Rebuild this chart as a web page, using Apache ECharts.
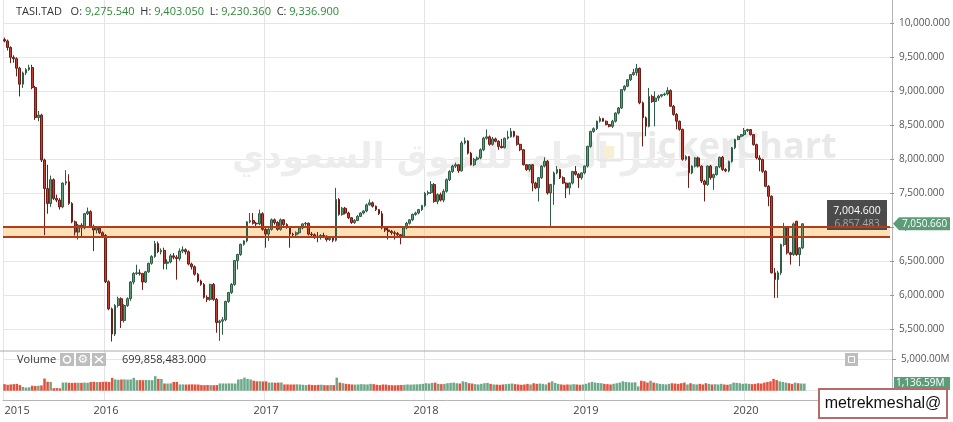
<!DOCTYPE html>
<html><head><meta charset="utf-8">
<script src="https://cdn.jsdelivr.net/npm/echarts@6/dist/echarts.min.js"></script>
<style>html,body{margin:0;padding:0;background:#fff;}#c{width:953px;height:422px;}</style>
</head><body><div id="c"></div>
<script>
// ---- data (weekly candles, TASI) ----
const firstWeek = '2015-05-21';
const totalWeeks = 289; // axis extends beyond last candle
const open = [
9760,9740,9645,9500,9480,9340,9105,9270,9320,9350,
9055,8615,8650,7990,7570,7350,7700,7425,7400,7300,
7650,7670,7350,7080,6930,7030,6990,7200,7230,7010,
6960,6990,6920,6880,6200,5800,5430,5850,5950,5630,
5850,5950,6195,6320,6330,6320,6195,6345,6470,6570,
6760,6640,6660,6470,6490,6580,6560,6540,6650,6670,
6640,6460,6420,6310,6210,6160,5970,5940,6160,5940,
5600,5620,5640,5910,6040,6160,6510,6600,6750,6800,
7080,7100,7060,7050,7200,6970,6900,6970,7110,7070,
6970,7110,7040,7000,6900,6890,6920,6990,7050,7060,
6900,6890,6870,6850,6880,6870,6820,6840,6810,7410,
7190,7280,7210,7140,7070,7100,7160,7210,7240,7330,
7360,7310,7260,7200,6990,6960,6940,6920,6910,6890,
6870,6990,7060,7110,7190,7210,7260,7320,7500,7510,
7630,7380,7480,7400,7530,7700,7820,7900,7920,7830,
8240,8270,8090,7920,8000,8020,8140,8310,8330,8220,
8300,8265,8190,8170,8310,8330,8410,8340,8220,8140,
7920,7850,7920,7650,7580,7730,7900,7970,7505,7630,
7800,7850,7730,7650,7580,7650,7820,7780,7730,7800,
7900,8190,8410,8450,8560,8600,8560,8510,8485,8560,
8680,8755,9025,9075,9170,9245,9275.54,9336.9,8830,8610,
8485,8925,8850,8900,8930,8950,8960,9010,8780,8660,
8560,8440,8000,8040,7800,7900,8020,7900,7680,7630,
7900,7730,7775,7890,8030,7850,7830,7970,8170,8290,
8338,8363,8422,8437,8363,8216,8020,7996,7824,7603,
7456,6330,6232,6330,6746,6991,6624,6599,7089,6600,
6697];
const high = [
9790,9760,9660,9530,9500,9360,9290,9340,9390,9390,
9080,8710,8670,8010,7920,7760,7720,7480,7430,7660,
7840,7780,7370,7100,7050,7060,7210,7290,7250,7040,
7010,7000,6940,6900,6220,5820,5870,5980,5970,5870,
5970,6210,6340,6450,6380,6330,6360,6480,6590,6800,
6790,6690,6700,6530,6610,6620,6590,6690,6720,6690,
6660,6480,6440,6330,6230,6180,6000,6170,6180,5960,
5640,5680,5920,6050,6180,6520,6610,6760,6810,7090,
7210,7210,7080,7260,7220,6990,6990,7130,7130,7090,
7130,7120,7060,7010,6920,6940,7000,7060,7080,7070,
6930,6910,6930,6900,6920,6880,6850,6860,7580,7430,
7300,7300,7230,7150,7120,7180,7220,7250,7350,7410,
7380,7320,7270,7240,7010,6990,6960,6950,6930,6900,
7000,7080,7120,7200,7230,7270,7330,7520,7540,7680,
7650,7500,7510,7560,7720,7840,7920,7950,7930,8270,
8320,8280,8110,8020,8040,8160,8330,8440,8350,8330,
8320,8280,8300,8320,8420,8460,8420,8350,8230,8150,
7930,7930,7930,7670,7740,7910,8030,7990,7640,7820,
7900,7860,7750,7660,7660,7830,7900,7800,7810,7910,
8200,8420,8470,8570,8630,8610,8570,8520,8580,8690,
8770,9030,9090,9180,9250,9330,9403.05,9350,8850,8630,
9050,8950,9000,8950,8960,8980,9060,9030,8800,8680,
8570,8450,8060,8050,7910,8030,8040,7910,7700,7910,
7920,7790,7900,8040,8050,7870,7980,8180,8300,8350,
8370,8461,8450,8440,8370,8230,8060,8010,7840,7620,
7470,6400,6360,6760,7065,7000,6640,7070,7095,6710,
7060];
const low = [
9720,9600,9415,9420,9220,8925,9050,9240,9300,9030,
8580,8560,7960,6885,7200,7300,7400,7370,7260,7280,
7620,7330,7060,6880,6820,6860,6970,7180,6990,6650,
6910,6900,6860,6180,5780,5320,5400,5820,5520,5600,
5830,5920,6160,6300,6290,6080,6180,6330,6450,6550,
6620,6600,6380,6380,6470,6530,6230,6510,6620,6600,
6440,6380,6290,6190,6140,5950,5900,5920,5920,5450,
5330,5420,5620,5890,6020,6140,6380,6580,6730,6780,
7060,7040,7020,7030,6950,6700,6800,6950,7040,6950,
6950,7020,6980,6700,6860,6870,6900,6970,7020,6880,
6860,6830,6780,6820,6840,6790,6800,6780,6790,7170,
7170,7190,7120,7050,7050,7090,7150,7190,7220,7320,
7290,7240,7180,6970,6930,6820,6890,6820,6860,6750,
6850,6970,7040,7090,7170,7190,7240,7300,7470,7490,
7360,7340,7380,7370,7510,7680,7800,7870,7800,7820,
8220,8070,7910,7900,7980,8000,8120,8290,8200,8200,
8250,8140,8160,8160,8290,8320,8320,8200,8120,7910,
7830,7820,7530,7560,7380,7710,7880,7480,6990,7330,
7780,7710,7640,7430,7480,7630,7760,7580,7700,7780,
7880,8170,8390,8430,8540,8550,8500,8470,8460,8540,
8660,8740,9000,9060,9150,9230,9230.36,8810,8190,8340,
8470,8830,8485,8860,8910,8930,8940,8770,8640,8440,
8420,7980,7980,7580,7780,7880,7880,7650,7380,7610,
7700,7550,7760,7870,7830,7810,7810,7950,8150,8280,
8320,8340,8400,8350,8200,8000,7824,7800,7590,7310,
6320,5962,5962,6300,6720,6600,6452,6580,6580,6428,
6680];
const close = [
9740,9645,9500,9480,9340,9105,9270,9320,9350,9055,
8615,8650,7990,7570,7350,7700,7425,7400,7300,7650,
7670,7350,7080,6930,7030,6990,7200,7230,7010,6960,
6990,6920,6880,6200,5800,5430,5850,5950,5630,5850,
5950,6195,6320,6330,6320,6195,6345,6470,6570,6760,
6640,6660,6470,6490,6580,6560,6540,6650,6670,6640,
6460,6420,6310,6210,6160,5970,5940,6160,5940,5600,
5620,5640,5910,6040,6160,6510,6600,6750,6800,7080,
7100,7060,7050,7200,6970,6900,6970,7110,7070,6970,
7110,7040,7000,6900,6890,6920,6990,7050,7060,6900,
6890,6870,6850,6880,6870,6820,6840,6810,7410,7190,
7280,7210,7140,7070,7100,7160,7210,7240,7330,7360,
7310,7260,7200,6990,6960,6940,6920,6910,6890,6870,
6990,7060,7110,7190,7210,7260,7320,7500,7510,7630,
7380,7480,7400,7530,7700,7820,7900,7920,7830,8240,
8270,8090,7920,8000,8020,8140,8310,8330,8220,8300,
8265,8190,8170,8310,8330,8410,8340,8220,8140,7920,
7850,7920,7650,7580,7730,7900,7970,7505,7630,7800,
7850,7730,7650,7580,7650,7820,7780,7730,7800,7900,
8190,8410,8450,8560,8600,8560,8510,8485,8560,8680,
8755,9025,9075,9170,9245,9275.54,9336.9,8830,8610,8485,
8925,8850,8900,8930,8950,8960,9010,8780,8660,8560,
8440,8000,8040,7800,7900,8020,7900,7680,7630,7900,
7730,7775,7890,8030,7850,7830,7970,8170,8290,8338,
8363,8422,8437,8363,8216,8020,7996,7824,7603,7456,
6330,6232,6330,6746,6991,6624,6599,7050,6600,6697,
7050.66];
// volume in millions
const volume = [
1050,950,1000,1050,1100,900,600,500,550,800,
750,800,850,1950,1430,1400,400,420,380,1300,
1320,1270,1250,1280,1270,1260,1300,1270,1400,1420,
1400,1380,1420,1450,1400,2060,1800,1750,1800,1820,
1780,1800,2060,1700,1700,1680,1720,1700,1690,2330,
1900,1880,1160,1150,1170,1400,1420,1000,1010,990,
1000,1020,1000,990,900,890,910,900,880,900,
1160,1160,1150,1170,1160,1150,1800,1850,2100,1900,
1800,1600,1500,1520,1480,1500,1300,1320,1280,1300,
1310,1000,1010,990,1000,1020,1000,950,900,980,
920,900,940,960,900,880,920,900,2100,1300,
1200,1100,1050,1000,980,1000,1050,1020,1000,1100,
1050,950,900,1000,980,900,880,870,900,920,
950,1000,980,1000,1020,1050,1100,1200,1150,1250,
1300,1100,1050,1100,1200,1250,1300,1200,1150,1500,
1400,1200,1150,1050,1000,1100,1200,1250,1100,1000,
980,950,1000,1050,1100,1150,1050,1000,950,1000,
1100,1000,1200,1100,1150,1100,1000,1300,1500,1250,
1100,1000,950,1000,980,1050,1000,950,1000,1100,
1300,1400,1300,1250,1200,1100,1050,1000,1100,1200,
1300,1500,1400,1350,1300,1350,699.86,1600,1500,1300,
1600,1300,1200,1100,1050,1000,1100,1200,1150,1100,
1200,1300,1000,1200,1050,1000,1100,1000,1200,1100,
1000,1050,1000,1100,1000,950,1050,1300,1250,1200,
1100,1150,1100,1050,1100,1200,1150,1300,1400,1500,
1900,1700,1500,1400,1300,1200,1100,1300,1200,1150,
1136.59];
const bandTop = 7004.6;
const bandBottom = 6857.483;
const lastPrice = 7050.66;
const lastVolume = 1136.59;
const priceMin = 5500, priceMax = 10000, priceStep = 500;
const volMin = 0, volMax = 5000, volStep = 5000;
const header = {sym:'TASI.TAD', o:'9,275.540', h:'9,403.050', l:'9,230.360', c:'9,336.900'};
const volHeader = '699,858,483.000';

// ---- categories ----
const weeks = [];
{ let t = Date.parse(firstWeek + 'T00:00:00Z');
  for (let i = 0; i < totalWeeks; i++) { weeks.push(new Date(t).toISOString().slice(0,10)); t += 7*86400000; } }
const yearStart = (idx) => idx === 0 || weeks[idx].slice(0,4) !== weeks[idx-1].slice(0,4);

const UP = '#5d9c78', UPB = '#2f5c44', DN = '#c43f31', DNB = '#6e1c15';
const candles = open.map((o,i) => [o, close[i], low[i], high[i]]);
const vols = volume.map((v,i) => ({value: v, itemStyle: {color: close[i] >= open[i] ? '#6da888' : '#e0533f'}}));

const FONT = 'Open Sans';
const fmt3 = v => v.toLocaleString('en-US',{minimumFractionDigits:3, maximumFractionDigits:3});
const fmtM = v => v.toLocaleString('en-US',{minimumFractionDigits:2, maximumFractionDigits:2}) + 'M';

const L = 3, R = 61;
const chart = echarts.init(document.getElementById('c'), null, {renderer:'canvas'});
chart.setOption({
  animation: false,
  backgroundColor: '#fff',
  textStyle: {fontFamily: FONT},
  grid: [
    {left: L, right: R, top: 23.3, height: 306},
    {left: L, right: R, top: 359.5, height: 31.2},
    {left: L, right: R, top: 0, height: 400}
  ],
  xAxis: [
    {type:'category', gridIndex:0, data: weeks, boundaryGap:true, show:false},
    {type:'category', gridIndex:1, data: weeks, boundaryGap:true, show:false},
    {type:'category', gridIndex:2, data: weeks, boundaryGap:true,
     axisLine:{show:true, lineStyle:{color:'#b5b5b5'}}, axisTick:{show:false},
     axisLabel:{interval:(i)=>yearStart(i), formatter:(v)=>v.slice(0,4), color:'#444', fontSize:11, margin:5, alignMinLabel:'left', fontFamily:FONT},
     splitLine:{show:true, interval:(i)=>yearStart(i), lineStyle:{color:'#e3e3e3', width:1}}}
  ],
  yAxis: [
    {type:'value', gridIndex:0, position:'right', min:priceMin, max:priceMax, interval:priceStep,
     axisLine:{show:false}, axisTick:{show:true, length:4, lineStyle:{color:'#999'}},
     axisLabel:{formatter:fmt3, color:'#555', fontSize:10, margin:9, fontFamily:FONT},
     splitLine:{show:true, lineStyle:{color:'#e6e6e6'}}},
    {type:'value', gridIndex:1, position:'right', min:volMin, max:volMax, interval:volStep,
     axisLine:{show:false}, axisTick:{show:true, length:4, lineStyle:{color:'#999'}},
     axisLabel:{formatter:fmtM, color:'#555', fontSize:10, margin:9, fontFamily:FONT},
     splitLine:{show:true, lineStyle:{color:'#e6e6e6'}}},
    {type:'value', gridIndex:2, position:'right', min:0, max:1,
     axisLine:{show:true, lineStyle:{color:'#b5b5b5'}}, axisTick:{show:false}, axisLabel:{show:false}, splitLine:{show:false}}
  ],
  series: [
    {type:'candlestick', xAxisIndex:0, yAxisIndex:0, data:candles, barWidth:'75%', clip:false, z:3,
     itemStyle:{color:UP, color0:DN, borderColor:UPB, borderColor0:DNB, borderWidth:1}},
    {type:'bar', xAxisIndex:1, yAxisIndex:1, data:vols, barWidth:'82%', z:3},
    {type:'line', xAxisIndex:0, yAxisIndex:0, data:[], z:6, silent:true,
     markArea:{silent:true, itemStyle:{color:'rgba(252,199,120,0.55)'}, data:[[{yAxis:bandTop},{yAxis:bandBottom}]]},
     markLine:{silent:true, symbol:'none', label:{show:false}, lineStyle:{color:'#b13d1b', width:2, type:'solid'},
       data:[{yAxis:bandTop},{yAxis:bandBottom}]}}
  ]
});

// annotations positioned through the axes
const yBand = chart.convertToPixel({yAxisIndex:0}, bandTop);
const yLast = chart.convertToPixel({yAxisIndex:0}, lastPrice);
const yVol = chart.convertToPixel({yAxisIndex:1}, lastVolume);
const axisX = 953 - R;

function tag(y, text, arrow) {
  const x0 = axisX + 1, h = 13;
  const pts = arrow ? [[x0, y],[x0+6, y-h/2],[950, y-h/2],[950, y+h/2],[x0+6, y+h/2]]
                    : [[x0+1, y-h/2],[950, y-h/2],[950, y+h/2],[x0+1, y+h/2]];
  return [
    {type:'polygon', shape:{points:pts}, style:{fill:'#5c9c78'}, z:20},
    {type:'text', x: arrow ? x0+9 : x0+3, y: y, style:{text:text, fill:'#fff', font:'10px "Open Sans"', verticalAlign:'middle'}, z:21}
  ];
}

chart.setOption({
  graphic: [
    // watermark
    {type:'text', x:490, y:159, z:0, style:{text:'المؤشر العام للسوق السعودي', fill:'#ededed', font:'bold 35px "DejaVu Sans"', align:'center', verticalAlign:'middle'}},
    {type:'rect', shape:{x:598, y:134, width:24, height:26, r:2}, style:{fill:'none', stroke:'#e8e8e8', lineWidth:3}, z:0},
    {type:'rect', shape:{x:604, y:146, width:10, height:12}, style:{fill:'#f7efd2'}, z:0},
    {type:'text', x:626, y:148, z:0, style:{text:'TickerChart', fill:'#e9e9e9', font:'bold 36px "Open Sans"', verticalAlign:'middle'}},
    // header
    {type:'text', x:16, y:12, z:30, style:{
      text:'{k|'+header.sym+'}   {k|O:} {v|'+header.o+'}  {k|H:} {v|'+header.h+'}  {k|L:} {v|'+header.l+'}  {k|C:} {v|'+header.c+'}',
      verticalAlign:'middle', font:'11px "Open Sans"',
      rich:{k:{fill:'#333', font:'11px "Open Sans"'}, v:{fill:'#2e8b3a', font:'11px "Open Sans"'}}}},
    // panel separator
    {type:'line', shape:{x1:0, y1:351, x2:axisX, y2:351}, style:{stroke:'#a9a9a9', lineWidth:1}, z:10},
    // volume header
    {type:'text', x:17, y:360, z:30, style:{text:'Volume', fill:'#333', font:'11px "Open Sans"', verticalAlign:'middle'}},
    {type:'rect', shape:{x:60, y:353, width:14, height:13}, style:{fill:'#bdbdbd'}, z:30},
    {type:'circle', shape:{cx:67, cy:359.5, r:3.5}, style:{fill:'none', stroke:'#fff', lineWidth:1.5}, z:31},
    {type:'rect', shape:{x:76, y:353, width:14, height:13}, style:{fill:'#bdbdbd'}, z:30},
    {type:'text', x:83, y:360, z:31, style:{text:'⚙', fill:'#fff', font:'12px "DejaVu Sans"', align:'center', verticalAlign:'middle'}},
    {type:'rect', shape:{x:92, y:353, width:14, height:13}, style:{fill:'#bdbdbd'}, z:30},
    {type:'line', shape:{x1:95, y1:356, x2:103, y2:363}, style:{stroke:'#fff', lineWidth:1.6}, z:31},
    {type:'line', shape:{x1:103, y1:356, x2:95, y2:363}, style:{stroke:'#fff', lineWidth:1.6}, z:31},
    {type:'text', x:122, y:360, z:30, style:{text:volHeader, fill:'#333', font:'11px "Open Sans"', verticalAlign:'middle'}},
    {type:'rect', shape:{x:845, y:353, width:13, height:13}, style:{fill:'#bdbdbd'}, z:30},
    {type:'rect', shape:{x:848.5, y:356.5, width:6, height:6}, style:{fill:'none', stroke:'#fff', lineWidth:1}, z:31},
    // band label box (under band)
    {type:'rect', shape:{x:827, y:yBand-27, width:60, height:30}, style:{fill:'#4b4b4b'}, z:1},
    {type:'text', x:857, y:yBand-16, z:1, style:{text:'7,004.600', fill:'#fff', font:'10.5px "Open Sans"', align:'center', verticalAlign:'middle'}},
    {type:'text', x:857, y:yBand-3, z:1, style:{text:'6,857.483', fill:'#a9a9a9', font:'10px "Open Sans"', align:'center', verticalAlign:'middle'}},
    ...tag(yLast, fmt3(lastPrice), true),
    ...tag(yVol, fmtM(lastVolume), false),
    // signature box
    {type:'rect', shape:{x:819, y:389, width:128, height:29}, style:{fill:'#fff', stroke:'#b86a6a', lineWidth:2}, z:40},
    {type:'text', x:883, y:404, z:41, style:{text:'metrekmeshal@', fill:'#111', font:'16px "Liberation Sans"', align:'center', verticalAlign:'middle'}}
  ]
});
</script></body></html>
